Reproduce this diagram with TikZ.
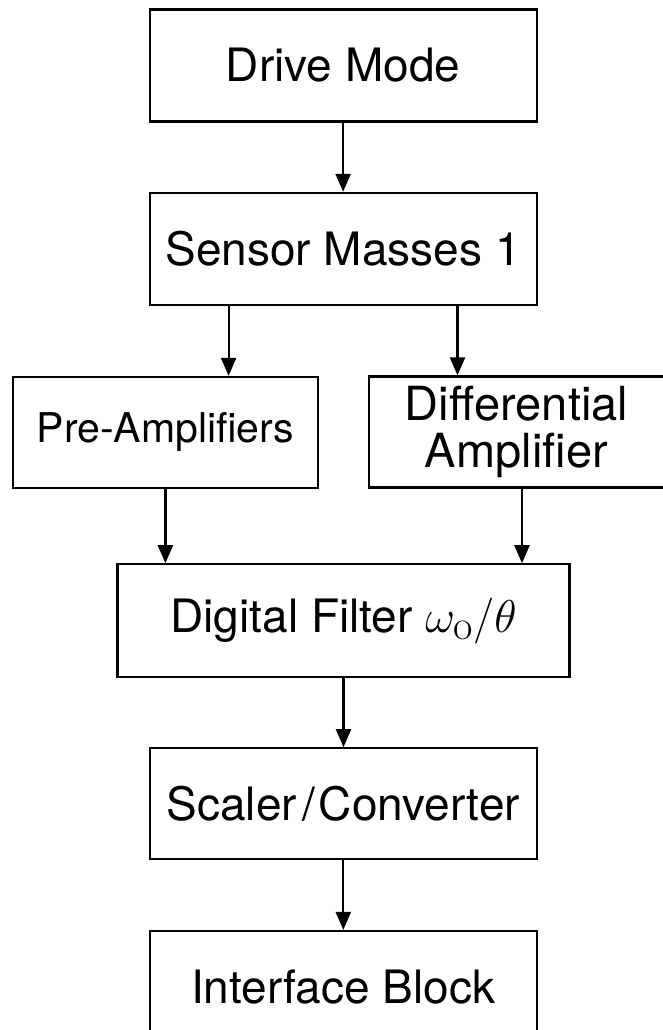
\documentclass[tikz,border=0pt]{standalone}
\usepackage{fix-cm}
\usepackage{fontspec}
\setmainfont{TeX Gyre Heros}
\newfontfamily\lmrfont{Latin Modern Roman}
\usetikzlibrary{arrows.meta}
\begin{document}
\begin{tikzpicture}[x=1pt,y=-1pt,
  box/.style={draw, line width=2.2pt, inner sep=0pt, align=center,
    font=\fontsize{46}{55}\selectfont},
  arr/.style={line width=2.2pt, -{Triangle[length=18pt,width=15pt]}}]
\useasboundingbox (0,0) rectangle (663,1030);
\fill[white] (0,0) rectangle (663,1030);

\node[box, minimum width=387pt, minimum height=112pt] (drive) at (343.1,65.5) {Drive Mode};
\node[box, minimum width=387pt, minimum height=112pt] (sensor) at (343.1,248.9) {Sensor Masses 1};
\node[box, minimum width=305pt, minimum height=111pt, font=\fontsize{41}{50}\selectfont] (pre) at (165.4,432.4) {Pre-Amplifiers};
\node[box, minimum width=295pt, minimum height=111pt, font=\fontsize{47}{47.5}\selectfont] (diff) at (516.5,432) {Differential\\Amplifier};
\node[box, minimum width=452pt, minimum height=113pt] (df) at (343.5,620.8) {Digital Filter $\omega_{\mbox{\fontsize{42}{42}\lmrfont o}}/\theta$};
\node[box, minimum width=387pt, minimum height=111pt] (scaler) at (343.3,803.8) {Scaler\kern5pt/\kern4pt Converter};
\node[box, minimum width=387pt, minimum height=111pt] (iface) at (343.3,986.5) {Interface Block};

\path ([xshift=-114.5pt]sensor.south) coordinate (s1);
\path ([xshift=114.4pt]sensor.south) coordinate (s2);
\path ([xshift=5.5pt]diff.south) coordinate (d1);

\draw[arr] (drive) -- (sensor);
\draw[arr] (s1) -- (s1 |- pre.north);
\draw[arr] (s2) -- (s2 |- diff.north);
\draw[arr] (pre.south) -- (pre.south |- df.north);
\draw[arr] (d1) -- (d1 |- df.north);
\draw[arr] (df.south) -- (df.south |- scaler.north);
\draw[arr] (scaler) -- (iface);
\end{tikzpicture}
\end{document}
